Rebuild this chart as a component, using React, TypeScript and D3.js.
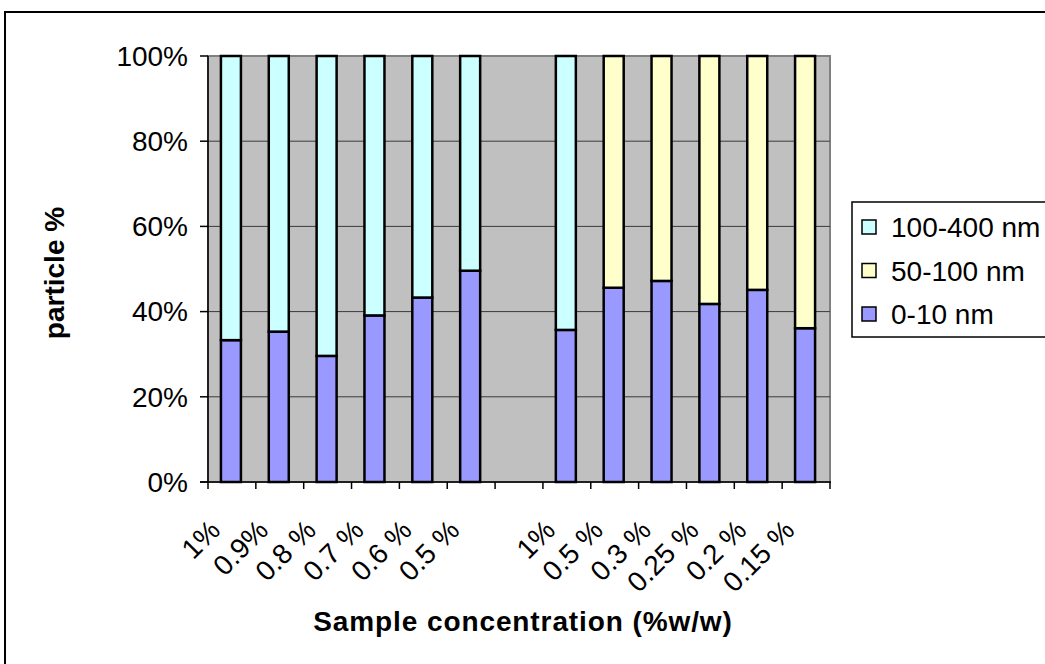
import React from "react";
import * as d3 from "d3";

const categories = ["1%", "0.9%", "0.8 %", "0.7 %", "0.6 %", "0.5 %", "", "1%", "0.5 %", "0.3 %", "0.25 %", "0.2 %", "0.15 %"];
const seriesNames = ["0-10 nm", "50-100 nm", "100-400 nm"];
const small = [33.3, 35.3, 29.6, 39.1, 43.3, 49.6, 0, 35.7, 45.6, 47.2, 41.8, 45.1, 36.1];
const medium = [0, 0, 0, 0, 0, 0, 0, 0, 54.4, 52.8, 58.2, 54.9, 63.9];
const large = [66.7, 64.7, 70.4, 60.9, 56.7, 50.4, 0, 64.3, 0, 0, 0, 0, 0];
const yTicks = [0, 0.2, 0.4, 0.6, 0.8, 1];
const colors = ["#9999FF", "#FFFFCC", "#CCFFFF"];

const W = 1045, H = 664;
const left = 208, right = 830, top = 56, bottom = 482;
const FONT = "'Liberation Sans', Arial, sans-serif";

export default function App() {
  const rows = categories.map((c, i) => ({ i, s0: small[i], s1: medium[i], s2: large[i] }));
  const stacked = d3.stack<any>().keys(["s0", "s1", "s2"]).offset(d3.stackOffsetExpand)(rows);
  const x = d3.scaleBand<number>().domain(categories.map((_, i) => i)).range([left, right]).paddingInner(0).paddingOuter(0);
  const y = d3.scaleLinear().domain([0, 1]).range([bottom, top]);
  const bw = 20;

  const legendItems = [
    { name: seriesNames[2], color: colors[2] },
    { name: seriesNames[1], color: colors[1] },
    { name: seriesNames[0], color: colors[0] },
  ];

  return (
    <svg width={W} height={H} style={{ position: "absolute", left: 0, top: 0, background: "#fff" }} fontFamily={FONT}>
      <rect x={5} y={12} width={W + 20} height={H + 20} fill="#fff" stroke="#000" strokeWidth={2} />
      <rect x={left} y={top} width={right - left} height={bottom - top} fill="#C0C0C0" stroke="#808080" strokeWidth={2} />
      {yTicks.slice(1, -1).map((t) => (
        <line key={t} x1={left} x2={right} y1={y(t)} y2={y(t)} stroke="#3a3a3a" strokeWidth={1} />
      ))}
      {stacked.map((s, k) =>
        s.map((d, j) => {
          const y0 = y(d[0]), y1 = y(d[1]);
          if (!(y0 - y1 > 0)) return null;
          const cx = (x(j) as number) + x.bandwidth() / 2;
          return (
            <rect key={k + "-" + j} x={cx - bw / 2 - 1} y={y1} width={bw} height={y0 - y1}
              fill={colors[k]} stroke="#000" strokeWidth={2.5} />
          );
        })
      )}
      {/* axes */}
      <line x1={left} x2={left} y1={top} y2={bottom} stroke="#000" strokeWidth={1.5} />
      <line x1={left - 8} x2={right + 1} y1={bottom} y2={bottom} stroke="#000" strokeWidth={1.5} />
      {yTicks.map((t) => (
        <g key={t}>
          <line x1={left - 8} x2={left} y1={y(t)} y2={y(t)} stroke="#000" strokeWidth={1.5} />
          <text x={188} y={y(t)} dy="0.35em" textAnchor="end" fontSize={28} fill="#000">
            {d3.format(".0%")(t)}
          </text>
        </g>
      ))}
      {categories.map((c, i) => (
        <line key={"t" + i} x1={x(i) as number} x2={x(i) as number} y1={bottom} y2={bottom + 7} stroke="#000" strokeWidth={1.5} />
      ))}
      <line x1={right} x2={right} y1={bottom} y2={bottom + 7} stroke="#000" strokeWidth={1.5} />
      {categories.map((c, i) => {
        const cx = (x(i) as number) + x.bandwidth() / 2;
        const px = cx - 10, py = 532;
        return c ? (
          <text key={"l" + i} x={px} y={py} textAnchor="end" fontSize={28} fill="#000"
            transform={`rotate(-45 ${px} ${py})`}>{c}</text>
        ) : null;
      })}
      <text x={523} y={631} textAnchor="middle" fontSize={28} fontWeight="bold" letterSpacing={0.9} fill="#000">
        Sample concentration (%w/w)
      </text>
      <text transform="translate(64,273) rotate(-90)" textAnchor="middle" fontSize={28} fontWeight="bold" fill="#000">
        particle %
      </text>
      {/* legend */}
      <rect x={852} y={202} width={220} height={135} fill="#fff" stroke="#000" strokeWidth={1.5} />
      {legendItems.map((it, k) => (
        <g key={it.name}>
          <rect x={862} y={220 + k * 43.5} width={14} height={14} fill={it.color} stroke="#000" strokeWidth={1.5} />
          <text x={891} y={237 + k * 43.5} fontSize={28} fill="#000">{it.name}</text>
        </g>
      ))}
    </svg>
  );
}
